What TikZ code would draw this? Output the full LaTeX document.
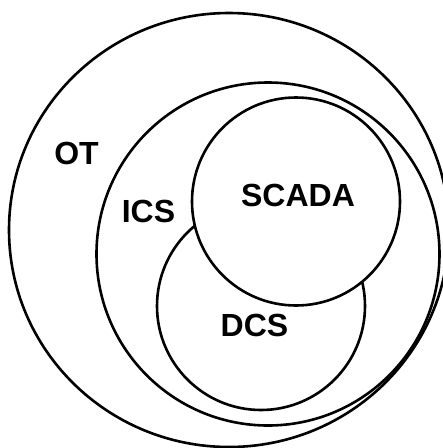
\documentclass[tikz,border=0pt]{standalone}
\usepackage{fontspec}
\setmainfont{Liberation Sans}
\usepackage{xcolor}
\usepackage{tikz}
\definecolor{ink}{HTML}{000000}
\definecolor{paper}{HTML}{FFFFFF}
\tikzset{
  ring/.style={draw=ink, line width=2.6pt},
  topring/.style={draw=ink, fill=paper, line width=2.6pt},
  lbl/.style={text=ink, inner sep=0pt, font=\fontsize{32}{38}\selectfont\bfseries}
}

\begin{document}
\begin{tikzpicture}[x=1pt, y=-1pt]
  \useasboundingbox (0,0) rectangle (443,448);
  \clip (0,0) rectangle (443,448);

  \coordinate (OT) at (229,230);
  \coordinate (ICS) at (268,254);
  \coordinate (DCS) at (261,306);
  \coordinate (SCADA) at (296,201.5);

  \draw[ring] (OT) ellipse [x radius=220, y radius=217];
  \draw[ring] (ICS) circle (171.5);
  \draw[ring] (DCS) circle (104);
  \draw[topring] (SCADA) circle (104);

  \node[lbl] (otlabel) at (76.5,153.5) {OT};
  \node[lbl] (icslabel) at (148.5,211.5) {ICS};
  \node[lbl] (scadalabel) at (298,195) {SCADA};
  \node[lbl] (dcslabel) at (254.5,325) {DCS};
\end{tikzpicture}
\end{document}
